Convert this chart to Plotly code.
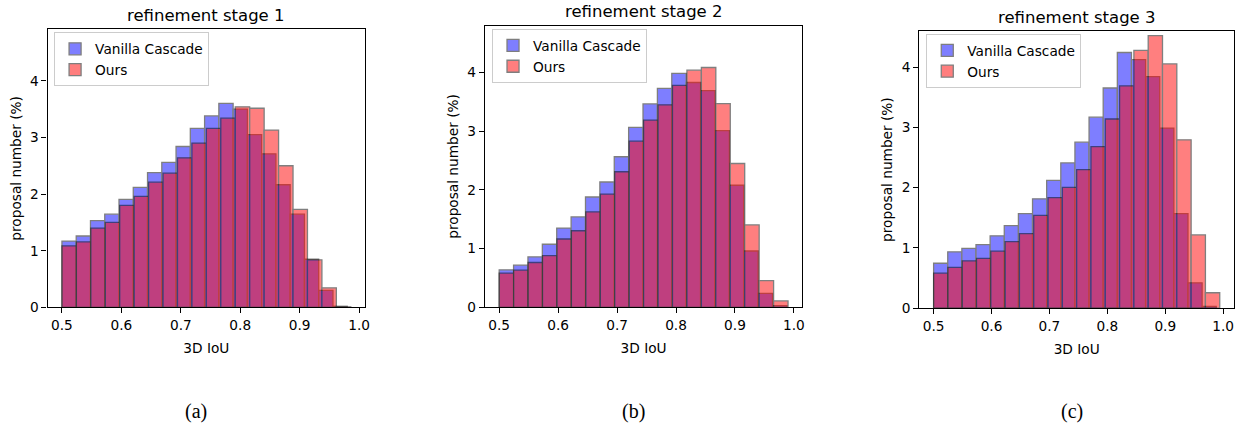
import numpy as np
import plotly.graph_objects as go

# ---------------- data ----------------
SERIES_NAMES = ["Vanilla Cascade", "Ours"]
STAGE_TITLES = ["refinement stage 1", "refinement stage 2", "refinement stage 3"]
CAPTIONS = ["(a)", "(b)", "(c)"]
X_TICKS = [0.5, 0.6, 0.7, 0.8, 0.9, 1.0]
X_TICK_LABELS = ["0.5", "0.6", "0.7", "0.8", "0.9", "1.0"]
Y_TICKS = [0, 1, 2, 3, 4]

# histogram bin ranges (20 bins each): [low, high]
stage1_vanilla_range = [0.5, 0.980]
stage1_ours_range = [0.5, 0.986]
stage2_vanilla_range = [0.5, 0.988]
stage2_ours_range = [0.5, 0.990]
stage3_vanilla_range = [0.5, 0.988]
stage3_ours_range = [0.5, 0.994]

# bin heights, proposal number (%)
stage1_vanilla = [1.17, 1.26, 1.53, 1.645, 1.905, 2.12, 2.38, 2.56, 2.84, 3.16,
                  3.38, 3.60, 3.50, 3.05, 2.71, 2.165, 1.645, 0.85, 0.30, 0.02]
stage1_ours = [1.085, 1.155, 1.40, 1.50, 1.80, 1.96, 2.21, 2.37, 2.64, 2.90,
               3.16, 3.34, 3.54, 3.515, 3.13, 2.50, 1.73, 0.84, 0.345, 0.01]
stage2_vanilla = [0.64, 0.72, 0.86, 1.075, 1.35, 1.54, 1.88, 2.135, 2.565, 3.065,
                  3.465, 3.73, 3.985, 3.83, 3.69, 3.01, 2.08, 0.96, 0.24, 0.03]
stage2_ours = [0.585, 0.635, 0.765, 0.88, 1.165, 1.305, 1.625, 1.93, 2.31, 2.83,
               3.19, 3.45, 3.78, 4.04, 4.085, 3.47, 2.45, 1.405, 0.455, 0.11]
stage3_vanilla = [0.745, 0.935, 0.99, 1.055, 1.20, 1.37, 1.57, 1.815, 2.12, 2.41,
                  2.755, 3.17, 3.655, 4.245, 4.125, 3.845, 2.99, 1.57, 0.42, 0.03]
stage3_ours = [0.58, 0.675, 0.785, 0.825, 0.945, 1.105, 1.235, 1.54, 1.835, 2.005,
               2.30, 2.68, 3.14, 3.69, 4.28, 4.525, 4.055, 2.795, 1.215, 0.255]

Y_MAX = [4.906, 4.80, 4.60]

STAGES = [
    (stage1_vanilla_range, stage1_vanilla, stage1_ours_range, stage1_ours),
    (stage2_vanilla_range, stage2_vanilla, stage2_ours_range, stage2_ours),
    (stage3_vanilla_range, stage3_vanilla, stage3_ours_range, stage3_ours),
]

# ---------------- layout geometry (pixels) ----------------
W, H = 1248, 425
AXES_PX = [  # left, right, top, bottom
    (47.7, 366.7, 30.0, 313.3),
    (486.7, 805.7, 26.0, 313.3),
    (923.0, 1239.0, 31.7, 314.0),
]
LEGEND_PX = [(54.3, 33.0), (494.0, 29.6), (930.0, 34.6)]
CAPTION_X = [197, 636, 1076]
CAPTION_Y = 419

FONT = "DejaVu Sans"
TICK_SIZE = 13.7
TITLE_SIZE = 16.5
BLUE = "rgb(0,0,255)"
RED = "rgb(255,0,0)"
EDGE = "rgb(0,0,0)"


def centers_widths(rng, n):
    edges = np.linspace(rng[0], rng[1], n + 1)
    return (edges[:-1] + edges[1:]) / 2, np.diff(edges)


fig = go.Figure()
annotations = []
for i, (vr, vv, orr, ov) in enumerate(STAGES):
    ax = "" if i == 0 else str(i + 1)
    leg = "legend" if i == 0 else "legend" + str(i + 1)
    for name, rng, vals, col in ((SERIES_NAMES[0], vr, vv, BLUE),
                                 (SERIES_NAMES[1], orr, ov, RED)):
        xc, wd = centers_widths(rng, len(vals))
        fig.add_trace(go.Bar(
            x=xc, y=vals, width=wd, name=name,
            marker=dict(color=col, line=dict(color=EDGE, width=1.3)),
            opacity=0.5,
            xaxis="x" + ax, yaxis="y" + ax, legend=leg,
            hoverinfo="x+y",
        ))

    l, r, t, b = AXES_PX[i]
    hi = max(vr[1], orr[1])
    xmin = 0.5 - 0.05 * (hi - 0.5)
    xmax = hi + 0.05 * (hi - 0.5)
    common = dict(showline=True, mirror=True, linecolor="black", linewidth=1.1,
                  ticks="outside", ticklen=5, tickwidth=1.1, tickcolor="black",
                  showgrid=False, zeroline=False, ticklabeloverflow="allow",
                  tickfont=dict(family=FONT, size=TICK_SIZE, color="black"))
    fig.layout["xaxis" + ax] = dict(
        domain=[l / W, r / W], anchor="y" + ax, range=[xmin, xmax],
        tickvals=X_TICKS, ticktext=X_TICK_LABELS,
        title=dict(text="3D IoU", standoff=11,
                   font=dict(family=FONT, size=TICK_SIZE, color="black")),
        **common)
    fig.layout["yaxis" + ax] = dict(
        domain=[1 - b / H, 1 - t / H], anchor="x" + ax, range=[0, Y_MAX[i]],
        tickvals=Y_TICKS,
        title=dict(text="proposal number (%)", standoff=5,
                   font=dict(family=FONT, size=TICK_SIZE, color="black")),
        **common)
    lx, ly = LEGEND_PX[i]
    fig.layout[leg] = dict(
        x=lx / W, y=1 - ly / H, xanchor="left", yanchor="top",
        xref="paper", yref="paper",
        bgcolor="rgba(255,255,255,0.8)", bordercolor="#cccccc", borderwidth=1,
        font=dict(family=FONT, size=TICK_SIZE, color="black"),
        tracegroupgap=2, itemwidth=30,
    )
    annotations.append(dict(
        text=STAGE_TITLES[i], x=(l + r) / 2 / W, y=1 - (t - 14) / H,
        xref="paper", yref="paper", xanchor="center", yanchor="middle",
        showarrow=False, font=dict(family=FONT, size=TITLE_SIZE, color="black")))
    annotations.append(dict(
        text=CAPTIONS[i], x=CAPTION_X[i] / W, y=1 - CAPTION_Y / H,
        xref="paper", yref="paper", xanchor="center", yanchor="middle",
        showarrow=False,
        font=dict(family="Liberation Serif", size=20, color="black")))

fig.update_layout(
    width=W, height=H, barmode="overlay",
    margin=dict(l=0, r=0, t=0, b=0),
    paper_bgcolor="white", plot_bgcolor="white",
    showlegend=True, annotations=annotations,
)

# remove the page's default body margin, then redraw at the final position
POST = (
    "document.documentElement.style.margin='0';"
    "document.body.style.margin='0';"
    "document.body.style.padding='0';"
    "document.body.style.overflow='hidden';"
    "var gd=document.getElementById('{plot_id}');"
    "Plotly.react(gd, gd.data, gd.layout, {displayModeBar:false});"
)
fig.write_html("out.html", config={"displayModeBar": False}, post_script=POST)
